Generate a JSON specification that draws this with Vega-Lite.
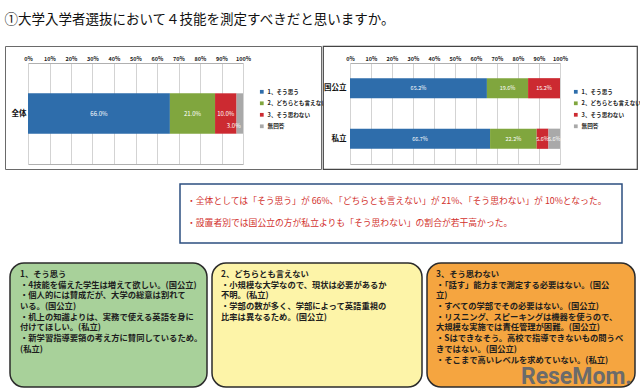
{
  "$schema": "https://vega.github.io/schema/vega-lite/v6.json",
  "background": "white",
  "padding": {"left": 4, "top": 12, "right": 4, "bottom": 4},
  "title": {"text": "①大学入学者選抜において４技能を測定すべきだと思いますか。", "anchor": "start", "fontSize": 13.5, "font": "Noto Sans CJK JP", "fontWeight": "normal", "color": "#111111", "offset": 19},
  "config": {"font": "Noto Sans CJK JP", "view": {"stroke": null}},
  "datasets": {
    "all": [
      {"group": "全体", "cat": "1、そう思う", "order": 1, "pct": 0.66},
      {"group": "全体", "cat": "2、どちらとも言えない", "order": 2, "pct": 0.21},
      {"group": "全体", "cat": "3、そう思わない", "order": 3, "pct": 0.10},
      {"group": "全体", "cat": "無回答", "order": 4, "pct": 0.03}
    ],
    "bytype": [
      {"group": "国公立", "cat": "1、そう思う", "order": 1, "pct": 0.652},
      {"group": "国公立", "cat": "2、どちらとも言えない", "order": 2, "pct": 0.196},
      {"group": "国公立", "cat": "3、そう思わない", "order": 3, "pct": 0.152},
      {"group": "私立", "cat": "1、そう思う", "order": 1, "pct": 0.667},
      {"group": "私立", "cat": "2、どちらとも言えない", "order": 2, "pct": 0.222},
      {"group": "私立", "cat": "3、そう思わない", "order": 3, "pct": 0.056},
      {"group": "私立", "cat": "無回答", "order": 4, "pct": 0.056}
    ],
    "summary": [
      {"line": 1, "text": "・全体としては「そう思う」が 66%、「どちらとも言えない」が 21%、「そう思わない」が 10%となった。"},
      {"line": 2, "text": "・設置者別では国公立の方が私立よりも「そう思わない」の割合が若干高かった。"}
    ],
    "green": [
      {"line": 1, "text": "1、そう思う"},
      {"line": 2, "text": "・4技能を備えた学生は増えて欲しい。(国公立)"},
      {"line": 3, "text": "・個人的には賛成だが、大学の総意は割れて"},
      {"line": 4, "text": "いる。(国公立)"},
      {"line": 5, "text": "・机上の知識よりは、実務で使える英語を身に"},
      {"line": 6, "text": "付けてほしい。(私立)"},
      {"line": 7, "text": "・新学習指導要領の考え方に賛同しているため。"},
      {"line": 8, "text": "(私立)"}
    ],
    "yellow": [
      {"line": 1, "text": "2、どちらとも言えない"},
      {"line": 2, "text": "・小規模な大学なので、現状は必要があるか"},
      {"line": 3, "text": "不明。(私立)"},
      {"line": 4, "text": "・学部の数が多く、学部によって英語重視の"},
      {"line": 5, "text": "比率は異なるため。(国公立)"}
    ],
    "orange": [
      {"line": 1, "text": "3、そう思わない"},
      {"line": 2, "text": "・「話す」能力まで測定する必要はない。(国公"},
      {"line": 3, "text": "立)"},
      {"line": 4, "text": "・すべての学部でその必要はない。(国公立)"},
      {"line": 5, "text": "・リスニング、スピーキングは機器を使うので、"},
      {"line": 6, "text": "大規模な実施では責任管理が困難。(国公立)"},
      {"line": 7, "text": "・Sはできなそう。高校で指導できないもの問うべ"},
      {"line": 8, "text": "きではない。(国公立)"},
      {"line": 9, "text": "・そこまで高いレベルを求めていない。(私立)"}
    ],
    "logo": [{"text": "ReseMom."}]
  },
  "spacing": 13,
  "vconcat": [
    {
      "hconcat": [
        {
          "width": 316, "height": 123,
          "view": {"stroke": "#6a6a6a", "strokeWidth": 1, "fill": "white"},
          "data": {"name": "all"},
          "transform": [
            {"stack": "pct", "groupby": ["group"], "sort": [{"field": "order", "order": "ascending"}], "as": ["x0", "x1"]},
            {"calculate": "(datum.x0 + datum.x1) / 2", "as": "mid"}
          ],
          "encoding": {
            "y": {"field": "group", "type": "nominal", "scale": {"range": [17, 118], "paddingInner": 0.6, "paddingOuter": 0.3},
                  "axis": {"orient": "left", "offset": -24, "title": null, "domain": false, "ticks": false, "labelFontSize": 7.5, "labelFontWeight": "bold", "labelColor": "#111111", "labelPadding": 3}}
          },
          "resolve": {"axis": {"x": "independent"}},
          "layer": [
            {
              "mark": {"type": "bar"},
              "encoding": {
                "x": {"field": "x0", "type": "quantitative", "scale": {"domain": [0, 1], "range": [23, 238], "nice": false},
                      "axis": {"orient": "top", "offset": -17, "tickCount": 10, "format": ".0%", "grid": true, "gridColor": "#c8c8c8", "gridWidth": 0.8, "domain": true, "domainColor": "#b0b0b0", "ticks": false, "labelFontSize": 5.5, "labelFontWeight": "bold", "labelPadding": 2, "labelColor": "#222222", "title": null, "labelFlush": false}},
                "x2": {"field": "x1"},
                "color": {"field": "cat", "type": "nominal",
                          "scale": {"domain": ["1、そう思う", "2、どちらとも言えない", "3、そう思わない", "無回答"], "range": ["#2e6dab", "#80a63e", "#cc2a31", "#a9a9a9"]},
                          "legend": {"orient": "none", "legendX": 254, "legendY": 43, "title": null, "symbolType": "square", "symbolSize": 14, "symbolStrokeWidth": 0, "labelFontSize": 5.6, "labelFontWeight": "bold", "labelColor": "#222222", "rowPadding": 4.5, "labelOffset": 3}}
              }
            },
            {
              "transform": [{"filter": "datum.pct >= 0.04"}],
              "mark": {"type": "text", "fontSize": 6, "color": "white"},
              "encoding": {
                "x": {"field": "mid", "type": "quantitative", "axis": {"orient": "bottom", "offset": -5, "labels": false, "ticks": false, "grid": false, "domain": true, "domainColor": "#b0b0b0", "title": null}},
                "text": {"field": "pct", "type": "quantitative", "format": ".1%"}
              }
            },
            {
              "transform": [{"filter": "datum.pct < 0.04"}],
              "mark": {"type": "text", "fontSize": 6, "color": "white", "dx": -6, "dy": 12},
              "encoding": {
                "x": {"field": "mid", "type": "quantitative", "axis": null},
                "text": {"field": "pct", "type": "quantitative", "format": ".1%"}
              }
            }
          ]
        },
        {
          "width": 314, "height": 123,
          "view": {"stroke": "#444444", "strokeWidth": 1.2, "fill": "white"},
          "data": {"name": "bytype"},
          "transform": [
            {"stack": "pct", "groupby": ["group"], "sort": [{"field": "order", "order": "ascending"}], "as": ["x0", "x1"]},
            {"calculate": "(datum.x0 + datum.x1) / 2", "as": "mid"}
          ],
          "encoding": {
            "y": {"field": "group", "type": "nominal", "sort": ["国公立", "私立"], "scale": {"range": [17, 118], "paddingInner": 0.6, "paddingOuter": 0.3},
                  "axis": {"orient": "left", "offset": -26, "title": null, "domain": false, "ticks": false, "labelFontSize": 7.5, "labelFontWeight": "bold", "labelColor": "#111111", "labelPadding": 3}}
          },
          "resolve": {"axis": {"x": "independent"}},
          "layer": [
            {
              "mark": {"type": "bar"},
              "encoding": {
                "x": {"field": "x0", "type": "quantitative", "scale": {"domain": [0, 1], "range": [27, 237], "nice": false, "clamp": true},
                      "axis": {"orient": "top", "offset": -17, "tickCount": 10, "format": ".0%", "grid": true, "gridColor": "#c8c8c8", "gridWidth": 0.8, "domain": true, "domainColor": "#b0b0b0", "ticks": false, "labelFontSize": 5.5, "labelFontWeight": "bold", "labelPadding": 2, "labelColor": "#222222", "title": null, "labelFlush": false}},
                "x2": {"field": "x1"},
                "color": {"field": "cat", "type": "nominal",
                          "scale": {"domain": ["1、そう思う", "2、どちらとも言えない", "3、そう思わない", "無回答"], "range": ["#2e6dab", "#80a63e", "#cc2a31", "#a9a9a9"]},
                          "legend": {"orient": "none", "legendX": 250, "legendY": 43, "title": null, "symbolType": "square", "symbolSize": 14, "symbolStrokeWidth": 0, "labelFontSize": 5.6, "labelFontWeight": "bold", "labelColor": "#222222", "rowPadding": 4.5, "labelOffset": 3}}
              }
            },
            {
              "mark": {"type": "text", "fontSize": 5.5, "color": "white"},
              "encoding": {
                "x": {"field": "mid", "type": "quantitative", "axis": {"orient": "bottom", "offset": -5, "labels": false, "ticks": false, "grid": false, "domain": true, "domainColor": "#b0b0b0", "title": null}},
                "text": {"field": "pct", "type": "quantitative", "format": ".1%"}
              }
            }
          ]
        }
      ],
      "spacing": 2,
      "bounds": "flush",
      "resolve": {"legend": {"color": "independent"}}
    },
    {
      "vconcat": [
        {
          "hconcat": [
            {"width": 174, "height": 59, "data": {"values": [{"t": ""}]}, "mark": "text", "encoding": {"text": {"field": "t"}}, "view": {"stroke": null}},
            {
              "width": 442, "height": 59,
              "view": {"stroke": "#2d4f80", "strokeWidth": 1.5, "fill": "white"},
              "data": {"name": "summary"},
              "mark": {"type": "text", "align": "left", "baseline": "middle", "fontSize": 8.8, "color": "#d2312d", "dx": 7},
              "encoding": {
                "x": {"datum": 0, "type": "quantitative", "scale": {"domain": [0, 1]}, "axis": null},
                "y": {"field": "line", "type": "quantitative", "scale": {"domain": [0.25, 2.9], "reverse": true, "nice": false}, "axis": null},
                "text": {"field": "text"}
              }
            }
          ],
          "spacing": 0
        },
        {
          "hconcat": [
            {"width": 1, "height": 124, "data": {"values": [{"t": ""}]}, "mark": "text", "encoding": {"text": {"field": "t"}}, "view": {"stroke": null}},
            {
              "width": 197, "height": 124,
              "view": {"fill": "#a8d19a", "stroke": "#2b2b2b", "strokeWidth": 1.5, "cornerRadius": 14},
              "data": {"name": "green"},
              "mark": {"type": "text", "align": "left", "baseline": "middle", "fontSize": 8.3, "fontWeight": "bold", "color": "#1e1e1e", "dx": 10},
              "encoding": {
                "x": {"datum": 0, "type": "quantitative", "scale": {"domain": [0, 1]}, "axis": null},
                "y": {"field": "line", "type": "quantitative", "scale": {"domain": [-0.12, 11.47], "reverse": true, "nice": false}, "axis": null},
                "text": {"field": "text"}
              }
            },
            {
              "width": 210, "height": 124,
              "view": {"fill": "#fdf4a8", "stroke": "#2b2b2b", "strokeWidth": 1.5, "cornerRadius": 14},
              "data": {"name": "yellow"},
              "mark": {"type": "text", "align": "left", "baseline": "middle", "fontSize": 8.3, "fontWeight": "bold", "color": "#1e1e1e", "dx": 9},
              "encoding": {
                "x": {"datum": 0, "type": "quantitative", "scale": {"domain": [0, 1]}, "axis": null},
                "y": {"field": "line", "type": "quantitative", "scale": {"domain": [-0.12, 11.47], "reverse": true, "nice": false}, "axis": null},
                "text": {"field": "text"}
              }
            },
            {
              "width": 208, "height": 124,
              "view": {"fill": "#f5a540", "stroke": "#2b2b2b", "strokeWidth": 1.5, "cornerRadius": 14},
              "layer": [
                {
                  "data": {"name": "orange"},
                  "mark": {"type": "text", "align": "left", "baseline": "middle", "fontSize": 8.3, "fontWeight": "bold", "color": "#1e1e1e", "dx": 9},
                  "encoding": {
                    "x": {"datum": 0, "type": "quantitative", "scale": {"domain": [0, 1], "nice": false}, "axis": null},
                    "y": {"field": "line", "type": "quantitative", "scale": {"domain": [-0.12, 11.47], "reverse": true, "nice": false}, "axis": null},
                    "text": {"field": "text"}
                  }
                },
                {
                  "data": {"name": "logo"},
                  "mark": {"type": "text", "align": "right", "baseline": "bottom", "fontSize": 23, "fontWeight": "bold", "font": "Roboto", "color": "#6b6b6b", "dx": -3, "dy": 2},
                  "encoding": {
                    "x": {"datum": 1, "type": "quantitative", "scale": {"domain": [0, 1], "nice": false}, "axis": null},
                    "y": {"datum": 11.47, "type": "quantitative", "scale": {"domain": [-0.12, 11.47], "reverse": true, "nice": false}, "axis": null},
                    "text": {"field": "text"}
                  }
                }
              ]
            }
          ],
          "spacing": 3
        }
      ],
      "spacing": 18
    }
  ]
}
